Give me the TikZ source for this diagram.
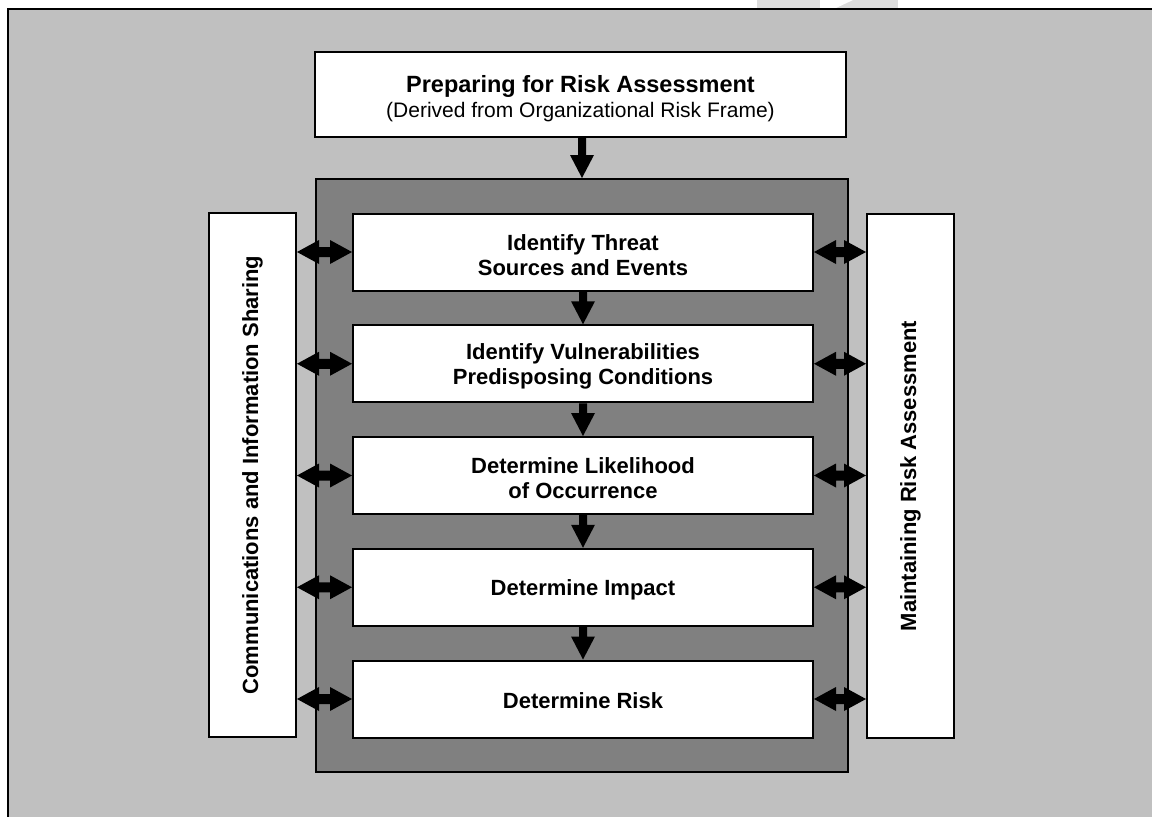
\documentclass[tikz,border=0pt]{standalone}
\usepackage{fontspec}
\setmainfont{Liberation Sans}
\usetikzlibrary{calc}
\definecolor{outergray}{HTML}{C0C0C0}
\definecolor{darkgray}{HTML}{808080}
\definecolor{wmgray}{HTML}{DCDCDC}
\newcommand{\dblarrow}[2]{\fill[black] let \p1=(#1), \p2=(#2) in
  (\x1,\y1) -- (\x1+22,\y1+12) -- (\x1+22,\y1+5) -- (\x2-22,\y1+5) -- (\x2-22,\y1+12) -- (\x2,\y1)
  -- (\x2-22,\y1-12) -- (\x2-22,\y1-5) -- (\x1+22,\y1-5) -- (\x1+22,\y1-12) -- cycle;}
\newcommand{\downblock}[2]{\fill[black] let \p1=(#1), \p2=(#2) in
  (\x1-4,\y1) -- (\x1+4,\y1) -- (\x1+4,\y2+23) -- (\x1+12,\y2+23) -- (\x1,\y2)
  -- (\x1-12,\y2+23) -- (\x1-4,\y2+23) -- cycle;}
\begin{document}
\begin{tikzpicture}[x=1pt,y=-1pt,
  frame/.style={draw=black,line width=2pt,inner sep=0pt},
  whitebox/.style={frame,fill=white},
  txt/.style={inner sep=0pt,align=center,font=\bfseries\fontsize{22}{25}\selectfont},
  stepbox/.style={whitebox,minimum width=460,minimum height=77},
  sidebox/.style={frame,fill=white,minimum width=87,minimum height=524},
  sidetext/.style={txt,rotate=90}]
\useasboundingbox (0,0) rectangle (1152,817);
\fill[white] (0,0) rectangle (1152,817);
\fill[wmgray] (757,0) rectangle (820,8);
\fill[wmgray] (836,0) rectangle (898,8);
\fill[white] (836,8) -- (853,0) -- (836,0) -- cycle;
\fill[outergray] (8,9) rectangle (1152,817);
\draw[line width=2pt] (8,817) -- (8,9) -- (1152,9);

\node[whitebox,minimum width=531,minimum height=85] (prep) at (580.5,94.5) {};
\node[txt,font=\bfseries\fontsize{23.5}{25}\selectfont] (preptxt) at ($(prep)+(0,4)$)
  {Preparing for Risk Assessment\\{\mdseries\fontsize{21}{25}\selectfont(Derived from Organizational Risk Frame)}};
\node[frame,fill=darkgray,minimum width=532,minimum height=593] (dark) at (582,475.5) {};

\node[stepbox] (b1) at (583,252) {};
\node[stepbox] (b2) at (583,363.75) {};
\node[stepbox] (b3) at (583,475.5) {};
\node[stepbox] (b4) at (583,587.25) {};
\node[stepbox] (b5) at (583,699) {};
\node[txt] (t1) at ($(b1)+(0,3)$) {Identify Threat\\Sources and Events};
\node[txt] (t2) at ($(b2)+(0,3)$) {Identify Vulnerabilities\\Predisposing Conditions};
\node[txt] (t3) at ($(b3)+(0,3)$) {Determine Likelihood\\of Occurrence};
\node[txt] (t4) at ($(b4)+(0,3)$) {Determine Impact};
\node[txt] (t5) at ($(b5)+(0,2)$) {Determine Risk};

\node[sidebox] (L) at (252.5,475) {};
\node[sidetext] (Ltxt) at (L) {Communications and Information Sharing};
\node[sidebox] (R) at (910.5,476) {};
\node[sidetext] (Rtxt) at (R) {Maintaining Risk Assessment};

\downblock{prep.south -| dark.north}{dark.north}
\downblock{b1.south}{b2.north}
\downblock{b2.south}{b3.north}
\downblock{b3.south}{b4.north}
\downblock{b4.south}{b5.north}

\foreach \b in {b1,b2,b3,b4,b5}{
  \dblarrow{L.east |- \b.west}{\b.west}
  \dblarrow{\b.east}{R.west |- \b.east}
}
\end{tikzpicture}
\end{document}
